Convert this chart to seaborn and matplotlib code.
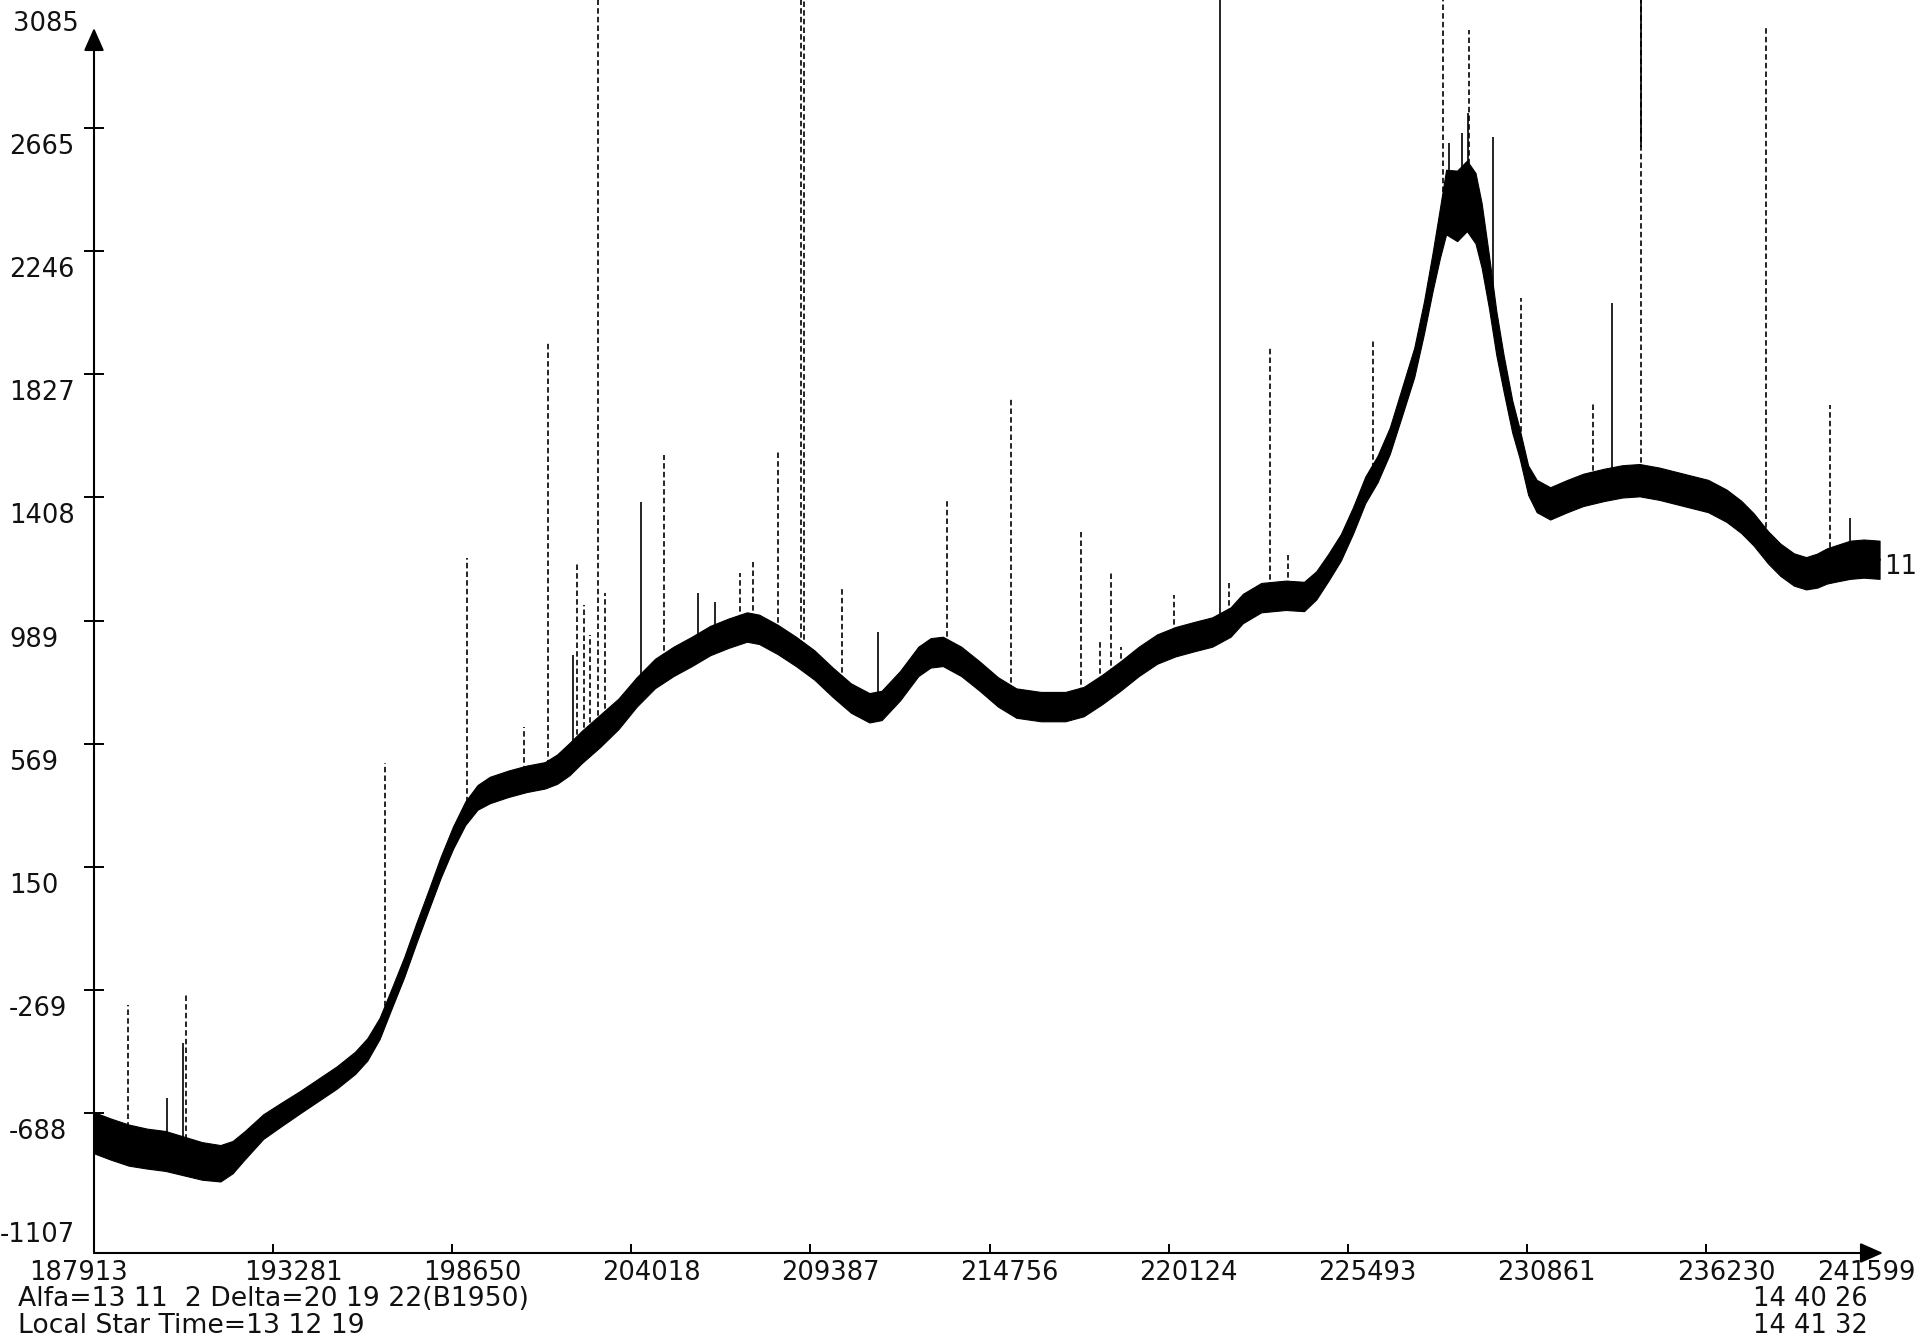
import numpy as np
import pandas as pd
import matplotlib
matplotlib.use("Agg")
import matplotlib.pyplot as plt
from matplotlib.patches import ArrowStyle
from matplotlib.transforms import ScaledTranslation
import seaborn as sns

# ---- recorded drift scan: sample index, trace level and half-width of the noise band
scan_x = [187913, 188399, 188949, 189500, 190050, 190601, 191151, 191702,
          192069, 192436, 192987, 193537, 194088, 194638, 195189, 195739,
          196107, 196473, 196841, 197208, 197575, 197942, 198309, 198676,
          199043, 199410, 199777, 200327, 200878, 201428, 201795, 202163,
          202529, 203080, 203631, 204181, 204732, 205283, 205833, 206384,
          206934, 207485, 207852, 208402, 208953, 209503, 210054, 210604,
          211155, 211522, 212073, 212623, 212990, 213357, 213908, 214458,
          215009, 215560, 216294, 217028, 217578, 218129, 218679, 219230,
          219780, 220331, 220881, 221432, 221983, 222350, 222900, 223634,
          224185, 224552, 224919, 225286, 225653, 226020, 226387, 226754,
          227121, 227488, 227782, 228038, 228259, 228443, 228773, 229067,
          229324, 229507, 229727, 229948, 230168, 230425, 230645, 230902,
          231159, 231563, 232077, 232554, 233178, 233728, 234242, 234829,
          235563, 236297, 236848, 237288, 237655, 238096, 238463, 238866,
          239234, 239564, 239858, 240151, 240555, 240959, 241436]
scan_level = [-755, -776, -797, -809, -817, -834, -851, -859,
              -838, -797, -734, -692, -651, -609, -567, -517,
              -471, -400, -296, -192, -75, 37, 150, 250,
              333, 387, 412, 433, 450, 462, 483, 517,
              558, 613, 671, 746, 809, 850, 884, 921,
              946, 967, 959, 925, 884, 838, 779, 725,
              692, 700, 767, 850, 879, 884, 850, 800,
              746, 708, 696, 696, 713, 754, 800, 850,
              892, 917, 934, 950, 984, 1030, 1067, 1075,
              1071, 1109, 1171, 1238, 1330, 1434, 1505, 1601,
              1734, 1868, 2022, 2176, 2309, 2414, 2401, 2435,
              2393, 2301, 2143, 1968, 1830, 1684, 1592, 1467,
              1413, 1388, 1413, 1434, 1451, 1463, 1467, 1455,
              1434, 1413, 1380, 1342, 1300, 1238, 1196, 1163,
              1150, 1159, 1175, 1184, 1196, 1200, 1196]
scan_half = [70, 70, 70, 68, 68, 66, 64, 62,
             55, 48, 42, 40,
             38, 38, 38, 38, 38, 36,
             34, 34, 34, 34, 36, 38,
             40, 42, 45, 45, 45, 45,
             50, 55, 55, 55, 52, 50,
             50, 50, 50, 50, 50, 50, 50, 50, 50, 50, 50, 50,
             50, 50, 50, 50, 50, 50, 50, 50, 50, 50, 50, 50,
             50, 50, 50, 50, 50, 50, 50, 50, 50, 50, 50, 50,
             50, 48, 46, 45, 45, 45,
             45, 45, 48, 50, 55, 65,
             85, 110, 120, 120, 120, 110,
             90, 75, 62, 55, 50, 50,
             55, 55, 55, 55, 55, 55, 55, 55, 55, 55, 55, 55,
             55, 55, 55, 55, 55, 58, 60, 62, 65, 65, 65]

# ---- interference spikes: position, peak level, drawn solid (True) or dashed (False)
spike_x = [188932, 190101, 190581, 190671, 196636, 199094, 200802, 201522, 202271,
           202391, 202601, 202781, 203020, 203230, 204309, 204999, 206018, 206527,
           207277, 207667, 208416, 209105, 209195, 210334, 211413, 213482, 215400,
           217498, 218068, 218398, 218697, 220286, 221665, 221935, 223164, 223703,
           226251, 228349, 228529, 228919, 229099, 229129, 229848, 230687, 232846,
           233415, 234284, 238031, 239950, 240549]
spike_top = [-320, -637, -450, -283, 504, 1202, 627, 1937, 872,
             1188, 1042, 940, 3110, 1083, 1393, 1553, 1083, 1052,
             1151, 1188, 1563, 3110, 3110, 1100, 950, 1399, 1750,
             1290, 916, 1151, 899, 1076, 3110, 1117, 1917, 1212,
             1944, 3110, 2615, 2649, 2717, 3000, 2635, 2087, 1730,
             2070, 3110, 3010, 1723, 1338]
spike_solid = [False, True, True, False, False, False, False, False, True,
               False, False, False, False, False, True, False, True, True,
               False, False, False, False, False, False, True, False, False,
               False, False, False, False, False, True, False, False, False,
               False, False, True, True, True, False, True, False, False,
               True, False, False, False, True]
# solid upper part of a partly dashed spike
cap_x = [234284]
cap_from = [2601]
cap_to = [3110]

# ---- axis scales and captions
x_ticks = np.linspace(187913, 241599, 11)
x_labels = ["187913", "193281", "198650", "204018", "209387", "214756",
            "220124", "225493", "230861", "236230", "241599"]
y_ticks = np.linspace(-1107, 3085, 11)
y_labels = ["-1107", "-688", "-269", "150", "569", "989",
            "1408", "1827", "2246", "2665", "3085"]

coord_line = "Alfa=13 11  2 Delta=20 19 22(B1950)"
time_line = "Local Star Time=13 12 19"
start_time = "14 40 26"
end_time = "14 41 32"
channel = "11"

# ---- figure
sns.set_theme(style="white")
plt.rcParams["font.family"] = ["DejaVu Sans"]
INK = "#111111"
FS = 18.5
FS_INFO = 19.2

W, H, DPI = 1920, 1340, 100
fig = plt.figure(figsize=(W / DPI, H / DPI), dpi=DPI)
fig.patch.set_facecolor("white")

ax_left, ax_right, ax_top, ax_bottom = 94, 1885, 5, 1253
ax = fig.add_axes([ax_left / W, 1 - ax_bottom / H,
                   (ax_right - ax_left) / W, (ax_bottom - ax_top) / H])
ax.set_facecolor("white")
ax.set_xlim(187913, 241599)
ax.set_ylim(-1164.5, 3085)

# noisy trace: band spans min..max of the two envelope rows at each sample
lo = np.array(scan_level) - np.array(scan_half)
hi = np.array(scan_level) + np.array(scan_half)
band = pd.DataFrame({"sample": np.repeat(scan_x, 2),
                     "level": np.column_stack([lo, hi]).ravel()})
sns.lineplot(data=band, x="sample", y="level", estimator="mean",
             errorbar=("pi", 100), color="black", linewidth=2.0,
             err_kws={"alpha": 1.0, "linewidth": 0.8, "edgecolor": "black"},
             ax=ax)

# spikes rise from the trace level
sx = np.array(spike_x)
stop = np.array(spike_top)
ssolid = np.array(spike_solid)
sbase = np.interp(sx, scan_x, scan_level)
ax.vlines(sx[~ssolid], sbase[~ssolid], stop[~ssolid], colors="black",
          linewidth=1.2, linestyles=[(0, (3.3, 1.9))], clip_on=False)
ax.vlines(sx[ssolid], sbase[ssolid], stop[ssolid], colors="black",
          linewidth=1.2, clip_on=False)
ax.vlines(cap_x, cap_from, cap_to, colors="black", linewidth=1.2, clip_on=False)

ax.set_xlabel("")
ax.set_ylabel("")
for s in ax.spines.values():
    s.set_visible(False)

# arrowed axes
arrow = ArrowStyle("-|>", head_length=14, head_width=6.2)
y_tip = (ax_bottom - 28) / (ax_bottom - ax_top)
x_tip = (1883 - ax_left) / (ax_right - ax_left)
for tip in [(0, y_tip), (x_tip, 0)]:
    ax.annotate("", xy=tip, xytext=(0, 0), xycoords="axes fraction",
                textcoords="axes fraction", annotation_clip=False,
                arrowprops=dict(arrowstyle=arrow, mutation_scale=1, lw=1.5,
                                color="black", shrinkA=0, shrinkB=0))

# ticks
ax.set_yticks(y_ticks, y_labels)
ax.set_xticks(x_ticks, x_labels)
ax.tick_params(axis="y", left=True, direction="inout", length=15, width=1.4,
               color="black", pad=53.7, labelsize=FS, labelcolor=INK)
ax.tick_params(axis="x", bottom=True, direction="in", length=6.5, width=1.4,
               color="black", pad=5, labelsize=FS, labelcolor=INK)
yt = ax.yaxis.get_major_ticks()
for t in (yt[0], yt[-1]):
    t.tick1line.set_visible(False)
xt = ax.xaxis.get_major_ticks()
for t in (xt[0], xt[-1]):
    t.tick1line.set_visible(False)

# label placement: y labels sit just under their ticks, x labels right of theirs
for i, lab in enumerate(ax.get_yticklabels()):
    lab.set_horizontalalignment("left")
    dx, dy = 0, -16
    if i == 0:
        dx, dy = -9, 4
    elif i == len(y_labels) - 1:
        dx = 4
    lab.set_transform(lab.get_transform() +
                      ScaledTranslation(dx / DPI, dy / DPI, fig.dpi_scale_trans))
for i, lab in enumerate(ax.get_xticklabels()):
    dx = 20
    if i == 0:
        dx = -16
    elif i == len(x_labels) - 1:
        dx = -19
    lab.set_transform(lab.get_transform() +
                      ScaledTranslation(dx / DPI, 0, fig.dpi_scale_trans))

# channel number at the end of the trace
ax.annotate(channel, xy=(scan_x[-1], scan_level[-1]), xytext=(5, -7),
            textcoords="offset pixels", ha="left", va="center",
            fontsize=FS, color=INK, annotation_clip=False)

# header lines under the axis
fig.text(18 / W, 1 - 1299 / H, coord_line, ha="left", va="center",
         fontsize=FS_INFO, color=INK)
fig.text(18 / W, 1 - 1326 / H, time_line, ha="left", va="center",
         fontsize=FS_INFO, color=INK)
fig.text(1868 / W, 1 - 1299 / H, start_time, ha="right", va="center",
         fontsize=FS, color=INK)
fig.text(1868 / W, 1 - 1326 / H, end_time, ha="right", va="center",
         fontsize=FS, color=INK)

fig.savefig("out.png", dpi=DPI, facecolor="white")
